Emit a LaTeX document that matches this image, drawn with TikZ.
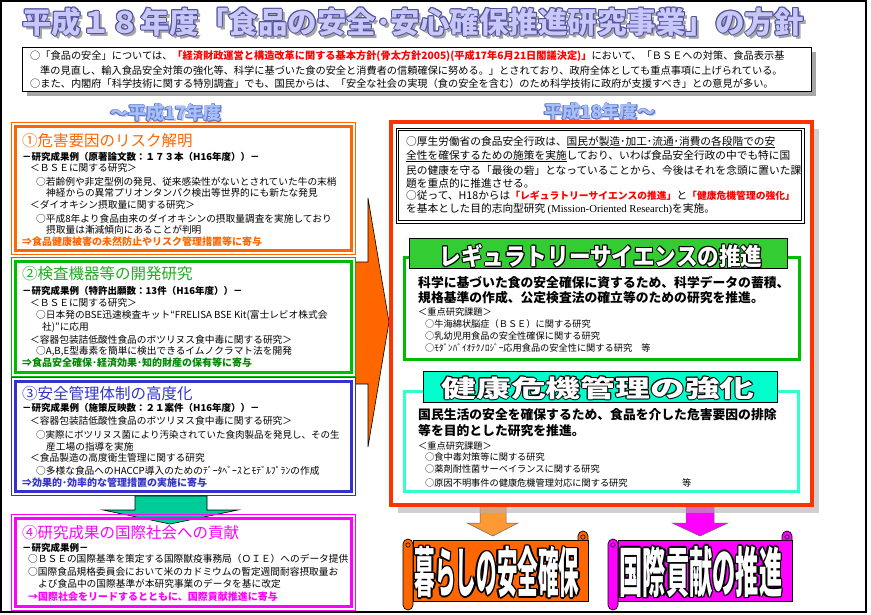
\documentclass[tikz,border=0pt]{standalone}
\usepackage{fontspec}
\usepackage{graphicx}
\newfontfamily\jp{Noto Sans CJK JP}
\newfontfamily\lser{Liberation Serif}
\newcommand\jpf[1]{\fontsize{#1}{#1}\selectfont\jp}
\definecolor{orC}{HTML}{FF6600}
\definecolor{grC}{HTML}{00BB00}
\definecolor{grT}{HTML}{22AA22}
\definecolor{grD}{HTML}{008800}
\definecolor{blC}{HTML}{3333CC}
\definecolor{mgC}{HTML}{FF00FF}
\definecolor{tlC}{HTML}{00CC99}
\definecolor{rdC}{HTML}{FF3300}
\definecolor{cyC}{HTML}{33FFCC}
\definecolor{grBan}{HTML}{33CC33}
\definecolor{cyBan}{HTML}{00FFCC}
\definecolor{orTwo}{HTML}{FF9933}
\definecolor{lav}{HTML}{C8C8F8}
\definecolor{lavO}{HTML}{5050A0}
\definecolor{lbF}{HTML}{A8C0F8}
\definecolor{lbO}{HTML}{6078C8}
\newcommand{\outtext}[7]{%
  \foreach \ang in {0,45,...,315}{%
    \node[inner sep=0pt,text=#4,font={#3}] at ([shift={(\ang:#6)}]#2) {#7};}%
  \node[inner sep=0pt,text=#5,font={#3}] (#1) at (#2) {#7};}
\newcommand{\scrollshape}[5]{%
  \filldraw[fill=#5,draw=black,line width=0.7pt] (#1+10,#2+9) rectangle (#3-1,#4-9);
  \filldraw[fill=#5,draw=black,line width=0.7pt] (#3-11,#2+9) -- (#3-11,#2+5) arc[start angle=180,end angle=360,radius=5] -- (#3-1,#2+9);
  \draw[line width=0.6pt] (#3-6,#2+6) circle (2.2);
  \filldraw[fill=#5,draw=black,line width=0.7pt,rounded corners=5] (#1,#2+8) rectangle (#1+10,#4);
  \draw[line width=0.6pt] (#1+5,#2+14) circle (2.2);
}
\begin{document}
\begin{tikzpicture}[x=1pt,y=-1pt,
  ln/.style={anchor=west,inner sep=0pt},
  bx/.style={line width=0.6pt},
  bxk/.style={line width=3pt}]
\useasboundingbox (0,0) rectangle (871,614);
\fill[white] (0,0) rectangle (871,614);

% title
\node[inner sep=0pt,text=black!35,font={\jpf{29.5}\bfseries}] (titsh) at (416,25) {平成１８年度「食品の安全･安心確保推進研究事業」の方針};
\outtext{tit}{413,22}{\jpf{29.5}\bfseries}{lavO}{lav}{1}{平成１８年度「食品の安全･安心確保推進研究事業」の方針}

% top box
\fill[black!35] (27,52) rectangle (816,96);
\draw[fill=white,line width=0.8pt] (22,47) rectangle (811,91);
\node[ln,font={\jpf{10.2}}] (p1) at (30,56) {○「食品の安全」については、\textcolor{red}{\bfseries「経済財政運営と構造改革に関する基本方針(骨太方針2005)(平成17年6月21日閣議決定)」}において、「ＢＳＥへの対策、食品表示基};
\node[ln,font={\jpf{10.2}}] (p2) at (40,71) {準の見直し、輸入食品安全対策の強化等、科学に基づいた食の安全と消費者の信頼確保に努める。」とされており、政府全体としても重点事項に上げられている。};
\node[ln,font={\jpf{10.2}}] (p3) at (30,84) {○また、内閣府「科学技術に関する特別調査」でも、国民からは、「安全な社会の実現（食の安全を含む）のため科学技術に政府が支援すべき」との意見が多い。};

% section labels
\node[inner sep=0pt,text=lav,font={\jpf{18}\bfseries}] (l17sh) at (168,115) {～平成17年度};
\outtext{l17}{166,113}{\jpf{18}\bfseries}{lbO}{lbF}{0.6}{～平成17年度}
\node[inner sep=0pt,text=lav,font={\jpf{18}\bfseries}] (l18sh) at (602,114) {平成18年度～};
\outtext{l18}{600,112}{\jpf{18}\bfseries}{lbO}{lbF}{0.6}{平成18年度～}

% big orange arrow
\filldraw[fill=orC,draw=black,line width=0.6pt] (350,262) -- (368,262) -- (368,198) -- (389,322) -- (368,447) -- (368,384) -- (350,384) -- cycle;

% left boxes
\fill[white] (11,122) rectangle (355,254);
\draw[bx,orC] (11,122) rectangle (355,254);
\draw[bxk,orC] (15,126) rectangle (351,250);
\fill[white] (11,257) rectangle (355,376);
\draw[bx,grC] (11,257) rectangle (355,376);
\draw[bxk,grC] (15,261) rectangle (351,372);
\fill[white] (11,377) rectangle (355,495);
\draw[bx,blC] (11,377) rectangle (355,495);
\draw[bxk,blC] (15,381) rectangle (351,491);
\fill[white] (11,514) rectangle (355,610);
\filldraw[fill=tlC,draw=black,line width=0.6pt] (135,496) -- (207,496) -- (207,510) -- (238,510) -- (170,524) -- (103,510) -- (135,510) -- cycle;
\draw[bx,mgC] (11,514) rectangle (355,610);
\draw[bxk,mgC] (15,518) rectangle (351,606);

% box 1
\node[ln,font={\jpf{15.5}},text=orC] (b1t) at (22,141) {①危害要因のリスク解明};
\node[ln,font={\jpf{9.5}\bfseries}] (b1h) at (22,157) {－研究成果例（原著論文数：１７３本（H16年度））－};
\node[ln,font={\jpf{9.7}}] (b1a) at (30,168) {＜ＢＳＥに関する研究＞};
\node[ln,font={\jpf{9.7}}] (b1b) at (36,182) {○若齢例や非定型例の発見、従来感染性がないとされていた牛の末梢};
\node[ln,font={\jpf{9.7}}] (b1c) at (46,193) {神経からの異常プリオンタンパク検出等世界的にも新たな発見};
\node[ln,font={\jpf{9.7}}] (b1d) at (30,205) {＜ダイオキシン摂取量に関する研究＞};
\node[ln,font={\jpf{9.7}}] (b1e) at (36,219) {○平成8年より食品由来のダイオキシンの摂取量調査を実施しており};
\node[ln,font={\jpf{9.7}}] (b1f) at (46,230) {摂取量は漸減傾向にあることが判明};
\node[ln,font={\jpf{10}\bfseries},text=orC] (b1g) at (22,242) {⇒食品健康被害の未然防止やリスク管理措置等に寄与};

% box 2
\node[ln,font={\jpf{15.5}},text=grT] (b2t) at (22,274) {②検査機器等の開発研究};
\node[ln,font={\jpf{9.5}\bfseries}] (b2h) at (22,291) {－研究成果例（特許出願数：13件（H16年度））－};
\node[ln,font={\jpf{9.7}}] (b2a) at (30,303) {＜ＢＳＥに関する研究＞};
\node[ln,font={\jpf{9.7}}] (b2b) at (36,315) {○日本発のBSE迅速検査キット“FRELISA BSE Kit(富士レビオ株式会};
\node[ln,font={\jpf{9.7}}] (b2c) at (42,327) {社)”に応用};
\node[ln,font={\jpf{9.7}}] (b2d) at (30,340) {＜容器包装詰低酸性食品のボツリヌス食中毒に関する研究＞};
\node[ln,font={\jpf{9.7}}] (b2e) at (36,351) {○A,B,E型毒素を簡単に検出できるイムノクラマト法を開発};
\node[ln,font={\jpf{10}\bfseries},text=grD] (b2g) at (22,363) {⇒食品安全確保･経済効果･知的財産の保有等に寄与};

% box 3
\node[ln,font={\jpf{15.5}},text=blC] (b3t) at (22,394) {③安全管理体制の高度化};
\node[ln,font={\jpf{9.5}\bfseries}] (b3h) at (22,408) {－研究成果例（施策反映数：２１案件（H16年度））－};
\node[ln,font={\jpf{9.7}}] (b3a) at (30,421) {＜容器包装詰低酸性食品のボツリヌス食中毒に関する研究＞};
\node[ln,font={\jpf{9.5}}] (b3b) at (36,435) {○実際にボツリヌス菌により汚染されていた食肉製品を発見し、その生};
\node[ln,font={\jpf{9.7}}] (b3c) at (46,447) {産工場の指導を実施};
\node[ln,font={\jpf{9.7}}] (b3d) at (30,458) {＜食品製造の高度衛生管理に関する研究};
\node[ln,font={\jpf{9.7}}] (b3e) at (36,471) {○多様な食品へのHACCP導入のためのﾃﾞｰﾀﾍﾞｰｽとﾓﾃﾞﾙﾌﾟﾗﾝの作成};
\node[ln,font={\jpf{10}\bfseries},text=blC] (b3g) at (22,483) {⇒効果的･効率的な管理措置の実施に寄与};

% box 4
\node[ln,font={\jpf{15.5}},text=mgC] (b4t) at (22,533) {④研究成果の国際社会への貢献};
\node[ln,font={\jpf{9.5}\bfseries}] (b4h) at (22,548) {－研究成果例－};
\node[ln,font={\jpf{9.7}}] (b4a) at (28,559) {○ＢＳＥの国際基準を策定する国際獣疫事務局（ＯＩＥ）へのデータ提供};
\node[ln,font={\jpf{9.7}}] (b4b) at (28,572) {○国際食品規格委員会において米のカドミウムの暫定週間耐容摂取量お};
\node[ln,font={\jpf{9.7}}] (b4c) at (38,584) {よび食品中の国際基準が本研究事業のデータを基に改定};
\node[ln,font={\jpf{10}\bfseries},text=mgC] (b4g) at (28,597) {→国際社会をリードするとともに、国際貢献推進に寄与};

% bottom arrows
\filldraw[fill=orTwo,draw=black!60,line width=0.5pt] (480,500) -- (506,500) -- (506,523) -- (518,523) -- (493,536) -- (467,523) -- (480,523) -- cycle;
\filldraw[fill=mgC,draw=black!60,line width=0.5pt] (686,500) -- (714,500) -- (714,523) -- (728,523) -- (700,536) -- (672,523) -- (686,523) -- cycle;

% right box
\fill[black!30,opacity=0.6] (398,129) rectangle (819,513);
\draw[fill=white,draw=rdC,line width=3.5pt] (391,122) rectangle (812,505);
\draw[line width=0.7pt] (396,128) rectangle (804,223);
\draw[line width=0.7pt] (398.5,130.5) rectangle (801.5,220.5);
\node[ln,font={\jpf{10.7}}] (r1) at (406,142) {○厚生労働省の食品安全行政は、\underline{国民が製造･加工･流通･消費の各段階での安}};
\node[ln,font={\jpf{10.7}}] (r2) at (406,156) {\underline{全性を確保するための施策を実施}しており、いわば食品安全行政の中でも特に国};
\node[ln,font={\jpf{10.7}}] (r3) at (406,170) {民の健康を守る「最後の砦」となっていることから、今後はそれを念頭に置いた課};
\node[ln,font={\jpf{10.7}}] (r4) at (406,183) {題を重点的に推進させる。};
\node[ln,font={\jpf{10.7}}] (r5) at (406,195) {○従って、H18からは{\color{red}\jpf{9.8}\bfseries「レギュラトリーサイエンスの推進」}と{\color{red}\jpf{9.8}\bfseries「健康危機管理の強化」}};
\node[ln,font={\jpf{10.7}}] (r6) at (406,209) {を基本とした目的志向型研究 {\lser (Mission-Oriented Research)}を実施。};

% green section
\draw[grC,line width=3pt] (404,257) rectangle (799,359);
\draw[fill=grBan,draw=black,line width=0.7pt] (409,238) rectangle (787,268);
\outtext{grTi}{601,256}{\jpf{24}\bfseries}{black}{white}{1}{\scalebox{0.9}[1]{レギュラトリーサイエンスの推進}}
\node[ln,font={\jpf{12.8}\bfseries}] (g1) at (418,283) {科学に基づいた食の安全確保に資するため、科学データの蓄積、};
\node[ln,font={\jpf{12.8}\bfseries}] (g2) at (418,298) {規格基準の作成、公定検査法の確立等のための研究を推進。};
\node[ln,font={\jpf{9.2}}] (g3) at (418,312) {＜重点研究課題＞};
\node[ln,font={\jpf{9.2}}] (g4) at (425,324) {○牛海綿状脳症（ＢＳＥ）に関する研究};
\node[ln,font={\jpf{9.2}}] (g5) at (425,336) {○乳幼児用食品の安全性確保に関する研究};
\node[ln,font={\jpf{9.2}}] (g6) at (425,348) {○ﾓﾀﾞﾝﾊﾞｲｵﾃｸﾉﾛｼﾞｰ応用食品の安全性に関する研究　等};

% cyan section
\draw[cyC,line width=3pt] (404,391) rectangle (798.5,491.5);
\draw[fill=cyBan,draw=black,line width=0.7pt] (423,371) rectangle (777,402);
\outtext{cyTi}{598,388}{\jpf{24}\bfseries}{black}{white}{1}{\scalebox{1.45}[1]{健康危機管理の強化}}
\node[ln,font={\jpf{12.8}\bfseries}] (c1) at (418,415) {国民生活の安全を確保するため、食品を介した危害要因の排除};
\node[ln,font={\jpf{12.8}\bfseries}] (c2) at (418,431) {等を目的とした研究を推進。};
\node[ln,font={\jpf{9.2}}] (c3) at (418,446) {＜重点研究課題＞};
\node[ln,font={\jpf{9.2}}] (c4) at (425,457) {○食中毒対策等に関する研究};
\node[ln,font={\jpf{9.2}}] (c5) at (425,469) {○薬剤耐性菌サーベイランスに関する研究};
\node[ln,font={\jpf{9.2}}] (c6) at (425,483) {○原因不明事件の健康危機管理対応に関する研究};
\node[ln,font={\jpf{9.2}}] (c7) at (682,483) {等};

% scrolls
\scrollshape{403}{531}{589}{610}{orC}
\outtext{s1}{497,572}{\jpf{54}\bfseries}{black}{white}{1.5}{\scalebox{0.38}[1]{暮らしの安全確保}}
\scrollshape{608}{531}{793}{610}{mgC}
\outtext{s2}{701,572}{\jpf{54}\bfseries}{black}{white}{1.5}{\scalebox{0.43}[1]{国際貢献の推進}}

% frame
\draw[line width=2pt] (1,1) rectangle (866,612);
\end{tikzpicture}
\end{document}
